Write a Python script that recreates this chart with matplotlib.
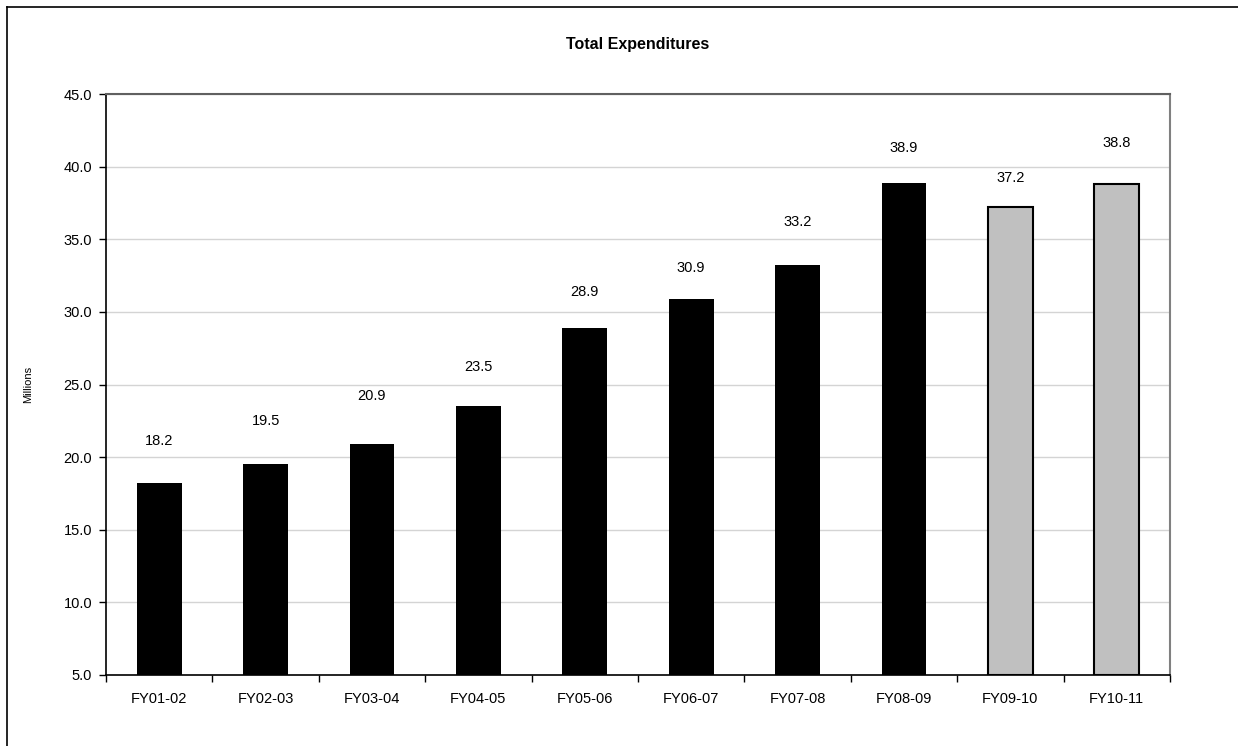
import matplotlib
matplotlib.use("Agg")
import matplotlib.pyplot as plt
from matplotlib.lines import Line2D

plt.rcParams['font.family'] = ['Liberation Sans', 'DejaVu Sans']

# ---------- data ----------
years = ["FY01-02", "FY02-03", "FY03-04", "FY04-05", "FY05-06",
         "FY06-07", "FY07-08", "FY08-09", "FY09-10", "FY10-11"]
totals = [18.2, 19.5, 20.9, 23.5, 28.9, 30.9, 33.2, 38.9, 37.2, 38.8]
projected = [False] * 8 + [True] * 2
# label gap above each bar (data units), as placed in the original
label_gap = [2.9, 3.0, 3.3, 2.7, 2.5, 2.1, 3.0, 2.4, 2.0, 2.8]

fig = plt.figure(figsize=(12.38, 7.46), dpi=100)
ax = fig.add_axes([106 / 1238, 1 - 675 / 746, (1170 - 106) / 1238, (675 - 94) / 746])

# outer frame (left + top only visible)
fig.add_artist(Line2D([7 / 1238, 7 / 1238], [0, 1 - 7 / 746], color="black", lw=1.2))
fig.add_artist(Line2D([7 / 1238, 1], [1 - 7 / 746, 1 - 7 / 746], color="black", lw=1.2))

x = range(len(years))
for i, (v, proj) in enumerate(zip(totals, projected)):
    if proj:
        ax.bar(i, v - 5, bottom=5, width=0.42, color="#c0c0c0", edgecolor="black", linewidth=1.5, zorder=3)
    else:
        ax.bar(i, v - 5, bottom=5, width=0.42, color="black", edgecolor="black", linewidth=0, zorder=3)
    ax.text(i, v + label_gap[i], f"{v:.1f}", ha="center", va="center", fontsize=10.5, zorder=4)

ax.set_xlim(-0.5, len(years) - 0.5)
ax.set_ylim(5, 45)
ax.set_yticks([5 + 5 * k for k in range(9)])
ax.set_yticklabels([f"{5 + 5 * k:.1f}" for k in range(9)], fontsize=10.5)
ax.set_xticks(list(x))
ax.set_xticklabels(years, fontsize=10.5)
ax.set_xticks([k - 0.5 for k in range(len(years) + 1)], minor=True)
ax.tick_params(axis="x", which="major", length=0, pad=12)
ax.tick_params(axis="x", which="minor", length=5, width=1, color="black", direction="out")
ax.tick_params(axis="y", length=5, width=1, direction="out", pad=5)

ax.grid(axis="y", color="#d4d4d4", linewidth=1, zorder=0)
ax.set_axisbelow(True)

for side in ("left", "bottom"):
    ax.spines[side].set_color("black")
    ax.spines[side].set_linewidth(1.2)
ax.spines["top"].set_color("#606060")
ax.spines["top"].set_linewidth(1.5)
ax.spines["right"].set_color("#808080")
ax.spines["right"].set_linewidth(1.5)

ax.set_ylabel("Millions", fontsize=8, labelpad=22)
fig.text(0.5 * (106 + 1170) / 1238, 1 - 45 / 746, "Total Expenditures",
         ha="center", va="center", fontsize=11.5, fontweight="bold")

fig.savefig("out.png", dpi=100)
